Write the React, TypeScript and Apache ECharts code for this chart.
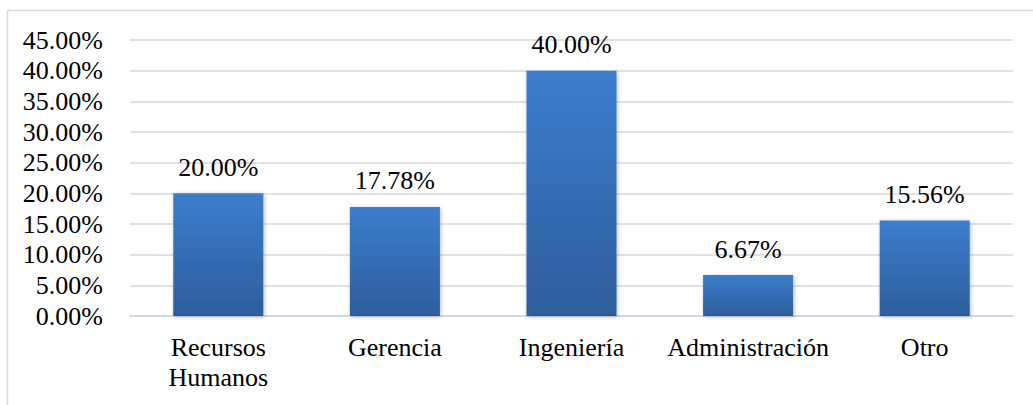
import React, { useEffect, useRef } from "react";
import * as echarts from "echarts";

const categories = ["Recursos\nHumanos", "Gerencia", "Ingeniería", "Administración", "Otro"];
const values = [20.0, 17.78, 40.0, 6.67, 15.56];
const yMin = 0;
const yMax = 45;
const yInterval = 5;

const FONT = "Liberation Serif";

export default function App() {
  const ref = useRef<HTMLDivElement>(null);
  useEffect(() => {
    if (!ref.current) return;
    const chart = echarts.init(ref.current, null, { renderer: "svg" });
    chart.setOption({
      animation: false,
      backgroundColor: "#ffffff",
      textStyle: { fontFamily: FONT },
      graphic: [
        {
          type: "rect",
          shape: { x: 7.5, y: 10.5, width: 1200, height: 600 },
          style: { fill: "none", stroke: "#d9d9d9", lineWidth: 1.5 },
          silent: true,
        },
      ],
      grid: { left: 130, right: 20, top: 40, bottom: 89, containLabel: false },
      xAxis: {
        type: "category",
        data: categories,
        axisTick: { show: false },
        axisLine: { show: true, lineStyle: { color: "#c9d8ec", width: 1.5 } },
        axisLabel: {
          color: "#000",
          fontFamily: FONT,
          fontSize: 26,
          margin: 16,
          lineHeight: 30,
          interval: 0,
        },
      },
      yAxis: {
        type: "value",
        min: yMin,
        max: yMax,
        interval: yInterval,
        axisLine: { show: false },
        axisTick: { show: false },
        splitLine: { show: true, lineStyle: { color: "#d9d9d9", width: 1.5 } },
        axisLabel: {
          color: "#000",
          fontFamily: FONT,
          fontSize: 26,
          margin: 27,
          formatter: (v: number) => v.toFixed(2) + "%",
        },
      },
      series: [
        {
          type: "bar",
          data: values,
          barWidth: "51%",
          itemStyle: {
            color: new echarts.graphic.LinearGradient(0, 0, 0, 1, [
              { offset: 0, color: "#3c7dcd" },
              { offset: 1, color: "#2d5d9b" },
            ]),
            shadowColor: "rgba(0,0,0,0.25)",
            shadowBlur: 4,
            shadowOffsetX: 1,
            shadowOffsetY: 1,
          },
          label: {
            show: true,
            position: "top",
            distance: 13,
            color: "#000",
            fontFamily: FONT,
            fontSize: 26,
            formatter: (p: any) => Number(p.value).toFixed(2) + "%",
          },
        },
      ],
    });
    return () => chart.dispose();
  }, []);
  return (
    <div
      ref={ref}
      style={{ position: "absolute", left: 0, top: 0, width: 1033, height: 405 }}
    />
  );
}
